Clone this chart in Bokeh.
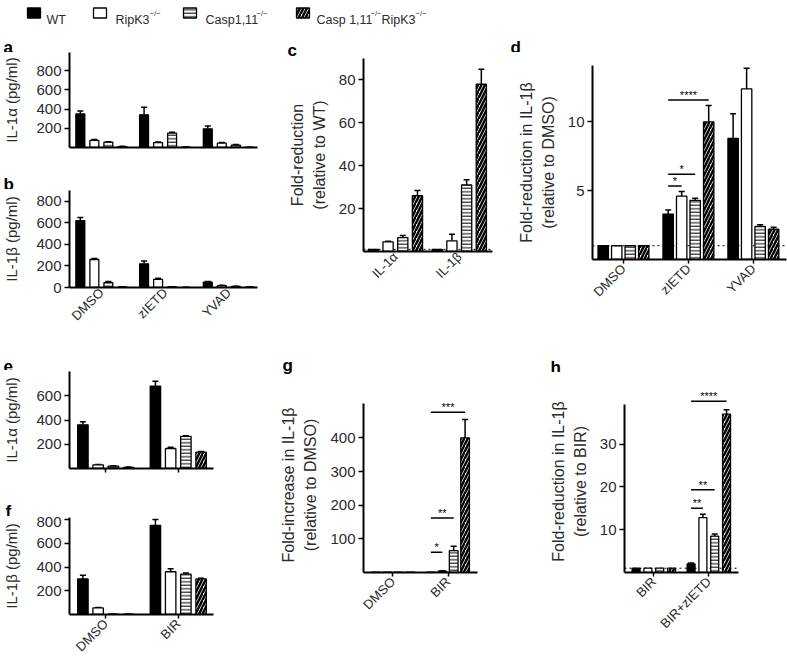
import math
from bokeh.plotting import figure
from bokeh.layouts import row, column
from bokeh.models import (Range1d, FixedTicker, Whisker, TeeHead,
                          ColumnDataSource, Span)
from bokeh.core.properties import value
from bokeh.embed import file_html
from bokeh.resources import INLINE

FONT = "Liberation Sans"
TXT = "#2b2b2b"

# ---------------- data ----------------
SERIES = ["WT", "RipK3", "Casp1,11", "Casp 1,11 RipK3"]

A_GROUPS = ["DMSO", "zIETD", "YVAD"]
A_MEAN = [[350, 340, 195], [75, 50, 45], [55, 150, 25], [10, 3, 2]]
A_SEM = [[30, 80, 30], [8, 8, 6], [6, 10, 5], [2, 1, 1]]
A_YTICKS = [200, 400, 600, 800]

B_GROUPS = ["DMSO", "zIETD", "YVAD"]
B_MEAN = [[620, 220, 50], [260, 75, 18], [45, 5, 10], [5, 2, 3]]
B_SEM = [[30, 25, 5], [8, 10, 3], [10, 2, 2], [1, 1, 1]]
B_YTICKS = [0, 200, 400, 600, 800]

C_GROUPS = ["IL-1α", "IL-1β"]
C_MEAN = [[1, 1], [4.5, 5], [6.5, 31], [26, 78]]
C_SEM = [[0, 0], [0.3, 3], [1, 2.5], [2.5, 7]]
C_YTICKS = [20, 40, 60, 80]

D_GROUPS = ["DMSO", "zIETD", "YVAD"]
D_MEAN = [[1, 3.3, 8.8], [1, 4.6, 12.4], [1, 4.3, 2.4], [1, 10, 2.2]]
D_SEM = [[0, 0.3, 1.8], [0, 0.35, 1.5], [0, 0.15, 0.12], [0, 1.2, 0.15]]
D_YTICKS = [5, 10]
D_SIG = [(1, 0, 3, 11.6, "****"), (1, 0, 2, 6.2, "*"), (1, 0, 1, 5.35, "*")]

E_GROUPS = ["DMSO", "BIR"]
E_MEAN = [[360, 680], [30, 165], [20, 265], [10, 135]]
E_SEM = [[25, 40], [3, 10], [3, 5], [2, 5]]
E_YTICKS = [200, 400, 600]

F_GROUPS = ["DMSO", "BIR"]
F_MEAN = [[300, 750], [55, 360], [2, 340], [2, 300]]
F_SEM = [[30, 50], [5, 25], [1, 10], [1, 5]]
F_YTICKS = [200, 400, 600, 800]

G_GROUPS = ["DMSO", "BIR"]
G_MEAN = [[1, 1], [1, 4], [1, 65], [1, 400]]
G_SEM = [[0, 0], [0, 1], [0, 13], [0, 55]]
G_YTICKS = [100, 200, 300, 400]
G_SIG = [(1, 0, 3, 476, "***"), (1, 0, 2, 162, "**"), (1, 0, 1, 60, "*")]

H_GROUPS = ["BIR", "BIR+zIETD"]
H_MEAN = [[1, 2], [1, 12.8], [1, 8.5], [1, 37]]
H_SEM = [[0, 0.2], [0, 0.8], [0, 0.5], [0, 1]]
H_YTICKS = [10, 20, 30]
H_SIG = [(1, 0, 3, 40, "****"), (1, 0, 2, 19.3, "**"), (1, 0, 1, 15, "**")]

# ---------------- styles ----------------
STYLES = [
    dict(fill_color="black"),
    dict(fill_color="white"),
    dict(fill_color="white", hatch_pattern="horizontal_line", hatch_scale=3.5,
         hatch_weight=1, hatch_color="black"),
    dict(fill_color="white", hatch_pattern="right_diagonal_line", hatch_scale=7,
         hatch_weight=2.5, hatch_color="black"),
]


def blank(w, h):
    f = figure(width=w, height=h, x_range=Range1d(0, w), y_range=Range1d(h, 0),
               output_backend="svg", toolbar_location=None, min_border=0,
               x_axis_type=None, y_axis_type=None, title=None)
    f.frame_align = False
    f.outline_line_color = None
    f.grid.visible = False
    return f


def strip(w, h, letter, x, baseline):
    f = blank(w, h)
    f.text(x=[x], y=[min(baseline, h - 5)], text=[letter], text_font=value(FONT),
           text_font_size="17px", text_font_style="bold", text_color="black",
           text_baseline="alphabetic")
    return f


def panel(w, h, borders, xr, yr, ybounds, yticks, groups, mean, sem,
          spacing, barw, ylabel, xlabels="rot", tick_out=4, ref_line=False,
          sigs=(), two_line=False):
    bl, br, bt, bb = borders
    p = figure(width=w, height=h, output_backend="svg", toolbar_location=None,
               x_range=Range1d(*xr), y_range=Range1d(*yr), title=None,
               min_border_left=bl, min_border_right=br,
               min_border_top=bt, min_border_bottom=bb)
    p.frame_align = False
    p.outline_line_color = None
    p.grid.visible = False

    if ref_line:
        p.add_layout(Span(location=1, dimension="width", line_color="black",
                          line_width=1, line_dash="2 3", level="underlay"))

    ng = len(groups)
    for k in range(4):
        xs = [g + (k - 1.5) * spacing for g in range(ng)]
        p.vbar(x=xs, top=mean[k], bottom=0, width=barw, line_color="black",
               line_width=1.3, **STYLES[k])
        ex = [x for x, s in zip(xs, sem[k]) if s > 0]
        lo = [m for m, s in zip(mean[k], sem[k]) if s > 0]
        hi = [m + s for m, s in zip(mean[k], sem[k]) if s > 0]
        if ex:
            src = ColumnDataSource(dict(x=ex, lo=lo, hi=hi))
            p.add_layout(Whisker(source=src, base="x", lower="lo", upper="hi",
                                 dimension="height", line_color="black",
                                 line_width=1.5, lower_head=None,
                                 upper_head=TeeHead(size=6, line_width=1.5,
                                                    line_color="black")))

    for (g, a, b, yv, txt) in sigs:
        x0 = g + (a - 1.5) * spacing
        x1 = g + (b - 1.5) * spacing
        p.segment(x0=[x0], y0=[yv], x1=[x1], y1=[yv], line_color="black",
                  line_width=1.5)
        p.text(x=[(x0 + x1) / 2], y=[yv], text=[txt], text_align="center",
               text_baseline="bottom", y_offset=1, text_font=value(FONT),
               text_font_size="11px", text_color="black")

    for ax in (p.xaxis[0], p.yaxis[0]):
        ax.axis_line_width = 2
        ax.axis_line_color = "black"
        ax.major_tick_line_width = 1.5
        ax.major_tick_line_color = "black"
        ax.minor_tick_line_color = None
        ax.major_tick_in = 0
        ax.major_label_text_font = FONT
        ax.major_label_text_color = TXT
    p.yaxis.major_label_text_font_size = "15px"
    p.xaxis.major_label_text_font_size = "13px"
    p.yaxis.ticker = FixedTicker(ticks=yticks)
    p.yaxis.major_tick_out = 5
    p.yaxis.major_label_standoff = 3
    if ybounds is not None:
        p.yaxis.bounds = ybounds
    p.yaxis.axis_label = ylabel
    p.yaxis.axis_label_text_font = FONT
    p.yaxis.axis_label_text_font_style = "normal"
    p.yaxis.axis_label_text_color = TXT
    if two_line:
        p.yaxis.axis_label_text_font_size = "16px"
        p.yaxis.axis_label_text_line_height = 1.3
        p.yaxis.axis_label_standoff = 8
    else:
        p.yaxis.axis_label_text_font_size = "15px"
        p.yaxis.axis_label_standoff = 13

    p.xaxis.major_tick_out = tick_out
    if xlabels == "none":
        p.xaxis.ticker = FixedTicker(ticks=[])
    else:
        p.xaxis.ticker = FixedTicker(ticks=list(range(ng)))
        if xlabels == "rot":
            p.xaxis.major_label_overrides = {i: g for i, g in enumerate(groups)}
            p.xaxis.major_label_orientation = math.pi / 4
            p.xaxis.major_label_standoff = 3
        else:
            p.xaxis.major_label_overrides = {i: "" for i in range(ng)}
            p.xaxis.major_label_standoff = 0
    return p


# ---------------- legend ----------------
leg = blank(787, 30)
box_x = [33.5, 99.5, 189.5, 302.5]
for k in range(4):
    leg.rect(x=[box_x[k]], y=[12.5], width=13, height=10, line_color="black",
             line_width=1.3, **STYLES[k])
leg_main = [(46, SERIES[0]), (115, "RipK3"), (205, "Casp1,11"), (316, "Casp 1,11"),
            (381, "RipK3")]
for x, t in leg_main:
    leg.text(x=[x], y=[19], text=[t], text_font=value(FONT), text_font_size="12.5px",
             text_baseline="alphabetic", text_color=TXT)
for x in [149, 256, 370, 415]:
    leg.text(x=[x], y=[13], text=["−/−"], text_font=value(FONT),
             text_font_size="7.5px", text_baseline="alphabetic", text_color=TXT)

# ---------------- panels ----------------
# left column (width 262)
sa = strip(262, 22, "a", 3, 17)
pa = panel(262, 103, (68, 5, 0, 8), (-0.5, 2.45), (0, 990), None,
           A_YTICKS, A_GROUPS, A_MEAN, A_SEM, 0.22, 0.14, "IL-1α (pg/ml)",
           xlabels="none", tick_out=0)
sb = strip(262, 34, "b", 3, 29)
pb = panel(262, 143, (68, 5, 1, 45), (-0.5, 2.45), (0, 900), None,
           B_YTICKS, B_GROUPS, B_MEAN, B_SEM, 0.22, 0.14, "IL-1β (pg/ml)",
           tick_out=0)
se = strip(262, 38, "e", 3, 33)
pe = panel(262, 105, (68, 49, 1, 7), (-0.5, 1.486), (0, 800), None,
           E_YTICKS, E_GROUPS, E_MEAN, E_SEM, 0.21, 0.144, "IL-1α (pg/ml)",
           xlabels="blank")
sf = strip(262, 41, "f", 5, 36)
pf = panel(262, 146, (69, 49, 1, 48), (-0.5, 1.486), (0, 817), None,
           F_YTICKS, F_GROUPS, F_MEAN, F_SEM, 0.21, 0.144, "IL-1β (pg/ml)")

# middle column (width 238)
sc = strip(238, 26, "c", 25, 20)
pc = panel(238, 264, (101, 8, 2, 69), (-0.5, 1.52), (0, 90), None,
           C_YTICKS, C_GROUPS, C_MEAN, C_SEM, 0.23, 0.16,
           "Fold-reduction\n(relative to WT)", tick_out=0, ref_line=True,
           two_line=True)
sg = strip(238, 55, "g", 20, 45)
pg = panel(238, 287, (101, 23, 22, 90), (-0.536, 1.536), (0, 520), (0, 503),
           G_YTICKS, G_GROUPS, G_MEAN, G_SEM, 0.207, 0.158,
           "Fold-increase in IL-1β\n(relative to DMSO)", sigs=G_SIG,
           two_line=True)

# right column (width 287)
sd = strip(287, 22, "d", 10, 17)
pd_ = panel(287, 275, (92, 1, 13, 68), (-0.477, 2.51), (0, 14.1), None,
            D_YTICKS, D_GROUPS, D_MEAN, D_SEM, 0.208, 0.16,
            "Fold-reduction in IL-1β\n(relative to DMSO)", ref_line=True,
            sigs=D_SIG, two_line=True)
sh = strip(287, 45, "h", 50, 40)
ph = panel(287, 290, (124, 49, 18, 90), (-0.533, 1.54), (0, 42.5), (0, 39.3),
           H_YTICKS, H_GROUPS, H_MEAN, H_SEM, 0.215, 0.145,
           "Fold-reduction in IL-1β\n(relative to BIR)", ref_line=True,
           sigs=H_SIG, two_line=True)

left = column(sa, pa, sb, pb, se, pe, sf, pf, spacing=0)
mid = column(sc, pc, sg, pg, spacing=0)
right = column(sd, pd_, sh, ph, spacing=0)
layout = column(leg, row(left, mid, right, spacing=0), spacing=0)

open("out.html", "w").write(file_html(layout, INLINE))
